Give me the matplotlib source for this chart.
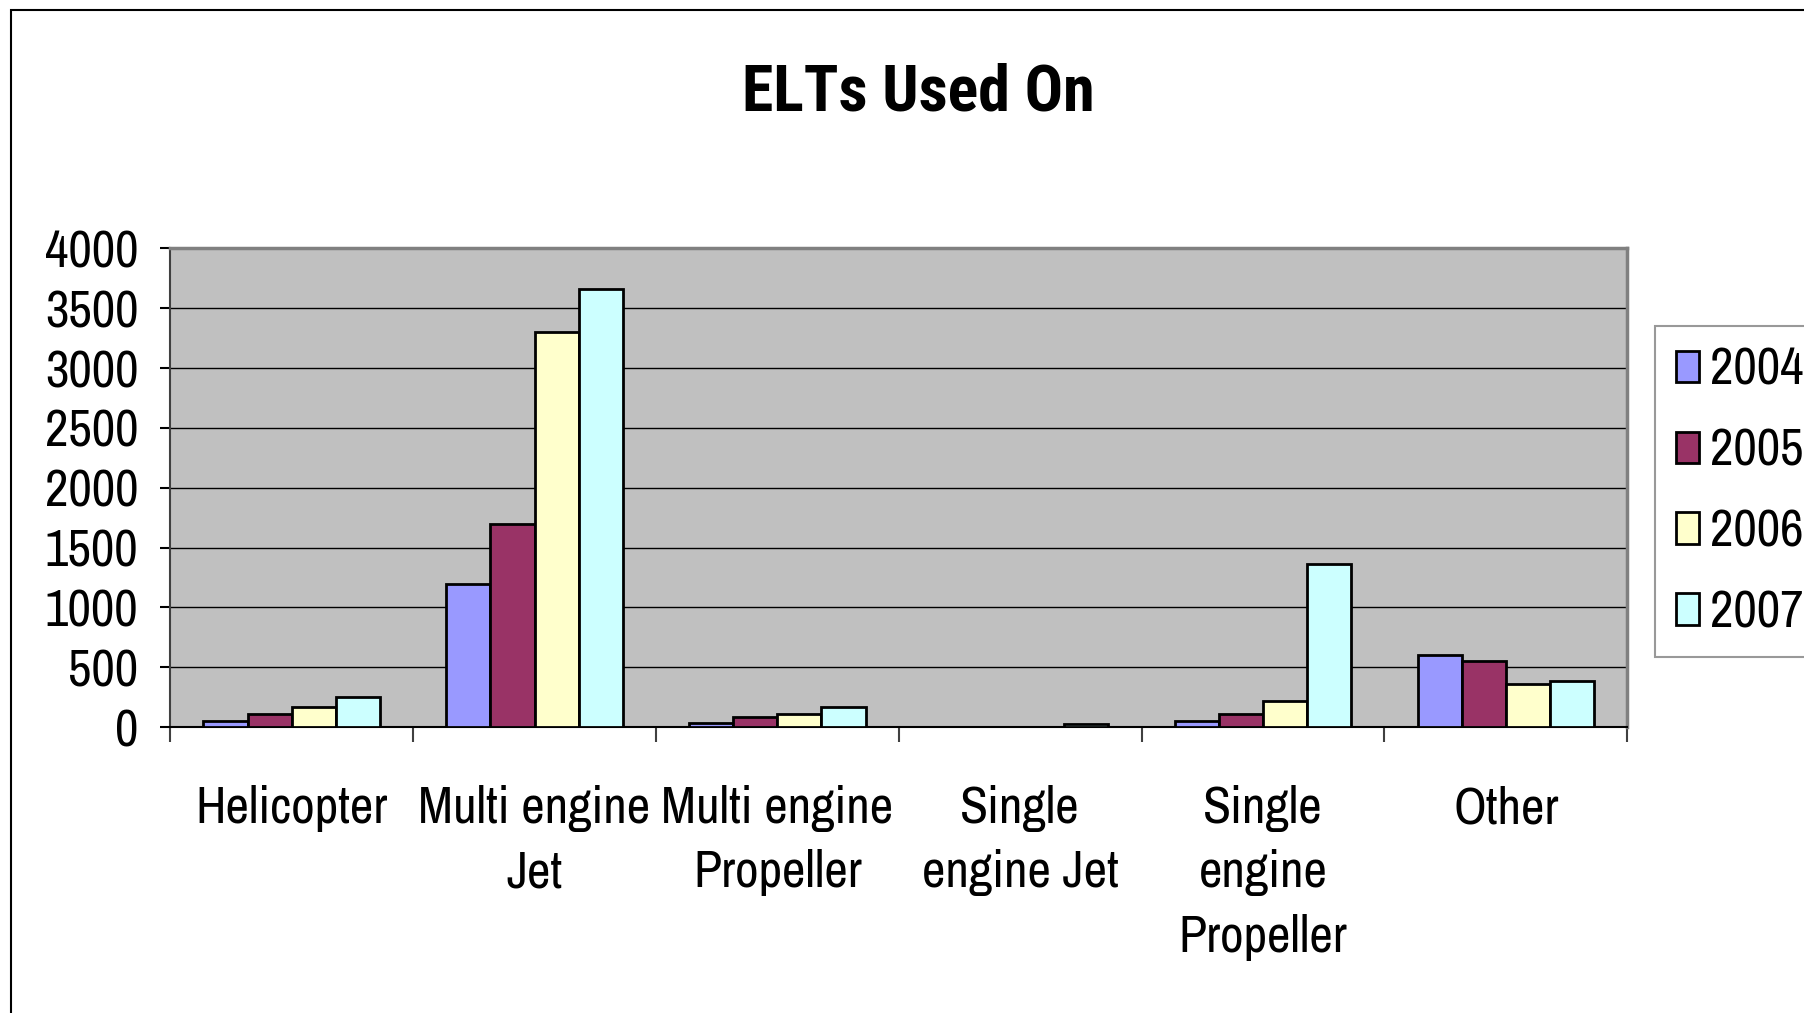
import matplotlib
matplotlib.use("Agg")
import matplotlib.pyplot as plt
from matplotlib.patches import Rectangle
import numpy as np

plt.rcParams["font.family"] = ["Archivo Narrow", "DejaVu Sans"]

categories = [
    "Helicopter",
    "Multi engine\nJet",
    "Multi engine\nPropeller",
    "Single\nengine Jet",
    "Single\nengine\nPropeller",
    "Other",
]
years = ["2004", "2005", "2006", "2007"]
v2004 = [54, 1195, 31, 0, 47, 603]
v2005 = [110, 1700, 82, 0, 108, 553]
v2006 = [167, 3300, 110, 0, 214, 358]
v2007 = [251, 3665, 167, 25, 1361, 383]
series = [v2004, v2005, v2006, v2007]
colors = ["#9999FF", "#993366", "#FFFFCC", "#CCFFFF"]

fig = plt.figure(figsize=(18.04, 10.13), dpi=100, facecolor="white")

# outer chart frame, cut off at right and bottom as in the source
fig.patches.append(Rectangle(
    (11 / 1804, -0.1), 1.2, 1.1 - 10 / 1013,
    transform=fig.transFigure, fill=False, edgecolor="black", linewidth=1.5,
))

ax = fig.add_axes([0.0944, 0.2823, 0.9020 - 0.0944, 0.7547 - 0.2823])
ax.set_facecolor("#C0C0C0")

x = np.arange(len(categories))
width = 1 / 5.5
for i, (vals, col, yr) in enumerate(zip(series, colors, years)):
    ax.bar(x + (i - 1.5) * width, vals, width, color=col,
           edgecolor="black", linewidth=2, label=yr, zorder=3)

ax.set_xlim(-0.5, len(categories) - 0.5)
ax.set_ylim(0, 4000)
ax.set_yticks(np.arange(0, 4001, 500))
ax.yaxis.grid(True, color="black", linewidth=1, zorder=1)
ax.set_axisbelow(True)

ax.set_xticks(x)
ax.set_xticklabels(categories, fontsize=37, linespacing=1.45)
ax.tick_params(axis="x", which="major", length=0, pad=42)
ax.set_xticks(np.arange(-0.5, len(categories), 1), minor=True)
ax.tick_params(axis="x", which="minor", length=11, width=1.5, color="#404040")
ax.tick_params(axis="y", labelsize=37, length=7, width=1.5, pad=16)

for side in ["top", "right"]:
    ax.spines[side].set_color("#808080")
    ax.spines[side].set_linewidth(2.5)
ax.spines["left"].set_color("#404040")
ax.spines["left"].set_linewidth(1.5)
ax.spines["bottom"].set_color("black")
ax.spines["bottom"].set_linewidth(1.5)

fig.text(0.509, 0.908, "ELTs Used On", ha="center", va="center",
         fontsize=46, fontweight="bold",
         family=["Roboto Condensed", "PT Sans Narrow", "DejaVu Sans"])

leg = fig.legend(loc="upper left", bbox_to_anchor=(1655 / 1804, 1 - 326 / 1013),
                 fontsize=37, frameon=True, fancybox=False, edgecolor="#808080",
                 handlelength=0.45, handleheight=0.57, handletextpad=0.22,
                 labelspacing=0.66, borderpad=0.4, borderaxespad=0)
leg.get_frame().set_linewidth(1.5)

fig.savefig("out.png", dpi=100, facecolor="white")
